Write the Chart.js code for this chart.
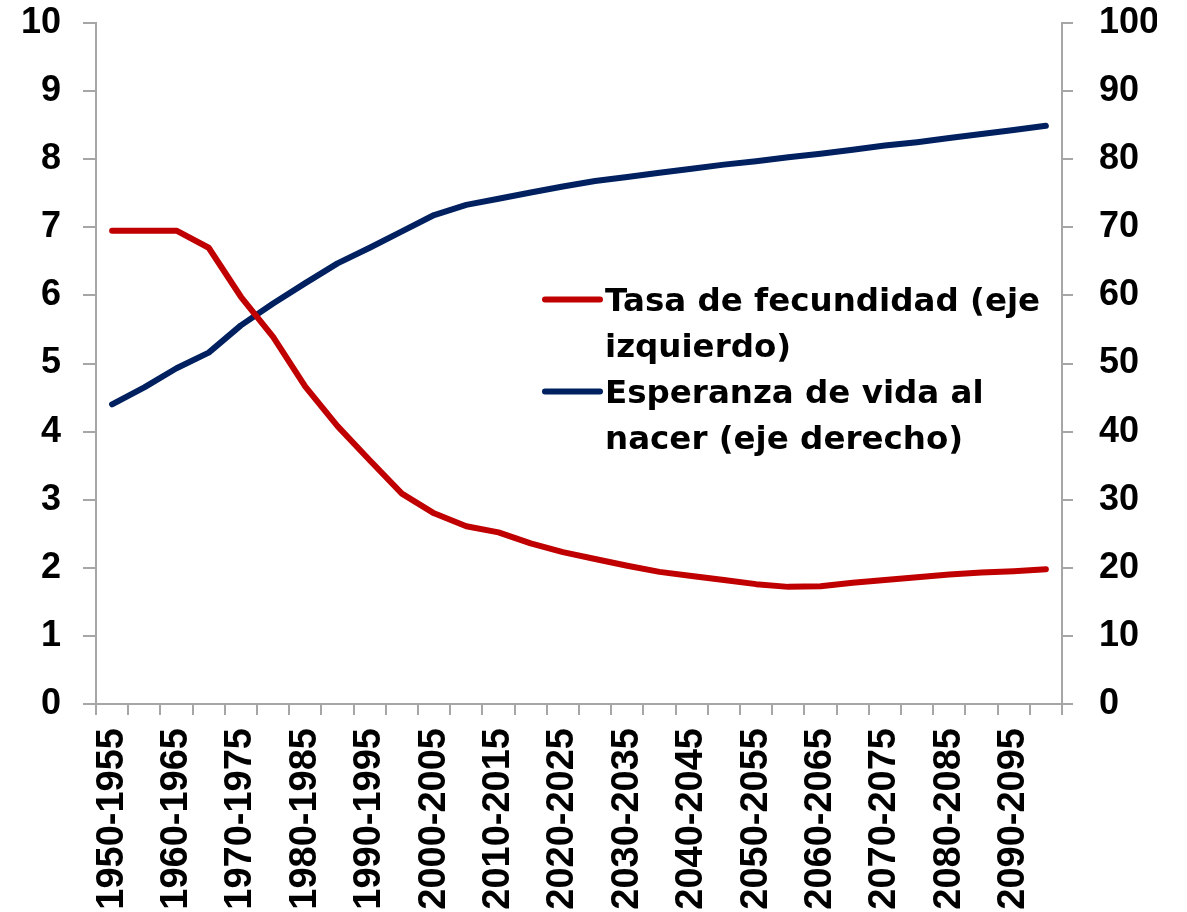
<!DOCTYPE html>
<html>
<head>
<meta charset="utf-8">
<script src="https://cdn.jsdelivr.net/npm/chart.js@4/dist/chart.umd.min.js"></script>
<style>
  body { margin: 0; background: #fff; }
  #wrap { width: 1187px; height: 912px; }
</style>
</head>
<body>
<div id="wrap"><canvas id="chart"></canvas></div>
<script>
// datos
var periodos = ["1950-1955", "1955-1960", "1960-1965", "1965-1970", "1970-1975", "1975-1980",
    "1980-1985", "1985-1990", "1990-1995", "1995-2000", "2000-2005", "2005-2010",
    "2010-2015", "2015-2020", "2020-2025", "2025-2030", "2030-2035", "2035-2040",
    "2040-2045", "2045-2050", "2050-2055", "2055-2060", "2060-2065", "2065-2070",
    "2070-2075", "2075-2080", "2080-2085", "2085-2090", "2090-2095", "2095-2100"];
var fecundidad = [6.95, 6.95, 6.95, 6.70, 5.98, 5.39, 4.66, 4.08, 3.58, 3.09,
    2.80, 2.61, 2.52, 2.36, 2.23, 2.13, 2.03, 1.94, 1.88, 1.82,
    1.76, 1.72, 1.73, 1.78, 1.82, 1.86, 1.90, 1.93, 1.95, 1.98];
var esperanza = [44.0, 46.5, 49.3, 51.6, 55.6, 58.8, 61.8, 64.7, 67.0, 69.4,
    71.8, 73.3, 74.2, 75.1, 76.0, 76.8, 77.4, 78.0, 78.6, 79.2,
    79.7, 80.3, 80.8, 81.4, 82.0, 82.5, 83.1, 83.7, 84.3, 84.9];
var ejeIzq = { min: 0, max: 10, step: 1 };
var ejeDer = { min: 0, max: 100, step: 10 };

var gris = "#a6a6a6";
var fuenteEje = { family: "'Liberation Sans', Arial, sans-serif", size: 36, weight: "bold" };
var fuenteX = { family: "'Liberation Sans', Arial, sans-serif", size: 38, weight: "bold" };

// leyenda a la derecha, con texto en varias lineas
var leyenda = {
    id: "leyenda",
    afterDatasetsDraw: function (chart) {
        var ctx = chart.ctx;
        var x0 = 545, x1 = 600, tx = 605;
        var y = 311, lh = 46, maxW = 455;
        ctx.save();
        ctx.font = "bold 32.5px 'DejaVu Sans', sans-serif";
        ctx.textBaseline = "alphabetic";
        ctx.fillStyle = "#000";
        chart.data.datasets.forEach(function (ds) {
            // partir el texto
            var words = ds.label.split(" ");
            var lines = [], cur = "";
            words.forEach(function (w) {
                var t = cur ? cur + " " + w : w;
                if (ctx.measureText(t).width > maxW && cur) {
                    lines.push(cur);
                    cur = w;
                } else {
                    cur = t;
                }
            });
            lines.push(cur);
            ctx.strokeStyle = ds.borderColor;
            ctx.lineWidth = 6;
            ctx.lineCap = "round";
            ctx.beginPath();
            ctx.moveTo(x0, y - 11.5);
            ctx.lineTo(x1, y - 11.5);
            ctx.stroke();
            lines.forEach(function (l) {
                ctx.fillText(l, tx, y);
                y += lh;
            });
        });
        ctx.restore();
    }
};

function drawChart() {
    var ctx = document.getElementById("chart").getContext("2d");
    var chart = new Chart(ctx, {
        type: "line",
        data: {
            labels: periodos,
            datasets: [
                {
                    label: "Tasa de fecundidad (eje izquierdo)",
                    data: fecundidad,
                    yAxisID: "y",
                    borderColor: "#c00000",
                    borderWidth: 6,
                    borderCapStyle: "round",
                    borderJoinStyle: "round",
                    pointRadius: 0,
                    tension: 0,
                },
                {
                    label: "Esperanza de vida al nacer (eje derecho)",
                    data: esperanza,
                    yAxisID: "y1",
                    borderColor: "#002060",
                    borderWidth: 6,
                    borderCapStyle: "round",
                    borderJoinStyle: "round",
                    pointRadius: 0,
                    tension: 0,
                },
            ],
        },
        options: {
            responsive: true,
            maintainAspectRatio: false,
            animation: false,
            layout: { padding: { left: 22, right: 30, top: 23, bottom: 0 } },
            plugins: {
                legend: { display: false },
                tooltip: { enabled: false },
            },
            scales: {
                x: {
                    offset: true,
                    grid: { offset: true, drawOnChartArea: false, drawTicks: true, tickLength: 11, color: gris, lineWidth: 2 },
                    border: { display: true, color: gris, width: 2 },
                    ticks: {
                        autoSkip: false,
                        minRotation: 90,
                        maxRotation: 90,
                        padding: 13,
                        color: "#000",
                        font: fuenteX,
                        callback: function (v, i) { return i % 2 === 0 ? periodos[i] : ""; },
                    },
                    afterFit: function (s) { s.paddingLeft = 0; s.paddingRight = 0; s.height = 208; },
                },
                y: {
                    position: "left",
                    min: ejeIzq.min,
                    max: ejeIzq.max,
                    grid: { drawOnChartArea: false, drawTicks: true, tickLength: 13, color: gris, lineWidth: 2 },
                    border: { display: true, color: gris, width: 2 },
                    ticks: { stepSize: ejeIzq.step, padding: 22, color: "#000", font: fuenteEje },
                    afterFit: function (s) { s.paddingTop = 0; s.paddingBottom = 0; s.width = 74; },
                },
                y1: {
                    position: "right",
                    min: ejeDer.min,
                    max: ejeDer.max,
                    grid: { drawOnChartArea: false, drawTicks: true, tickLength: 11, color: gris, lineWidth: 2 },
                    border: { display: true, color: gris, width: 2 },
                    ticks: { stepSize: ejeDer.step, padding: 26, color: "#000", font: fuenteEje },
                    afterFit: function (s) { s.paddingTop = 0; s.paddingBottom = 0; s.width = 95; },
                },
            },
        },
        plugins: [leyenda],
    });
}
drawChart();
</script>
</body>
</html>
